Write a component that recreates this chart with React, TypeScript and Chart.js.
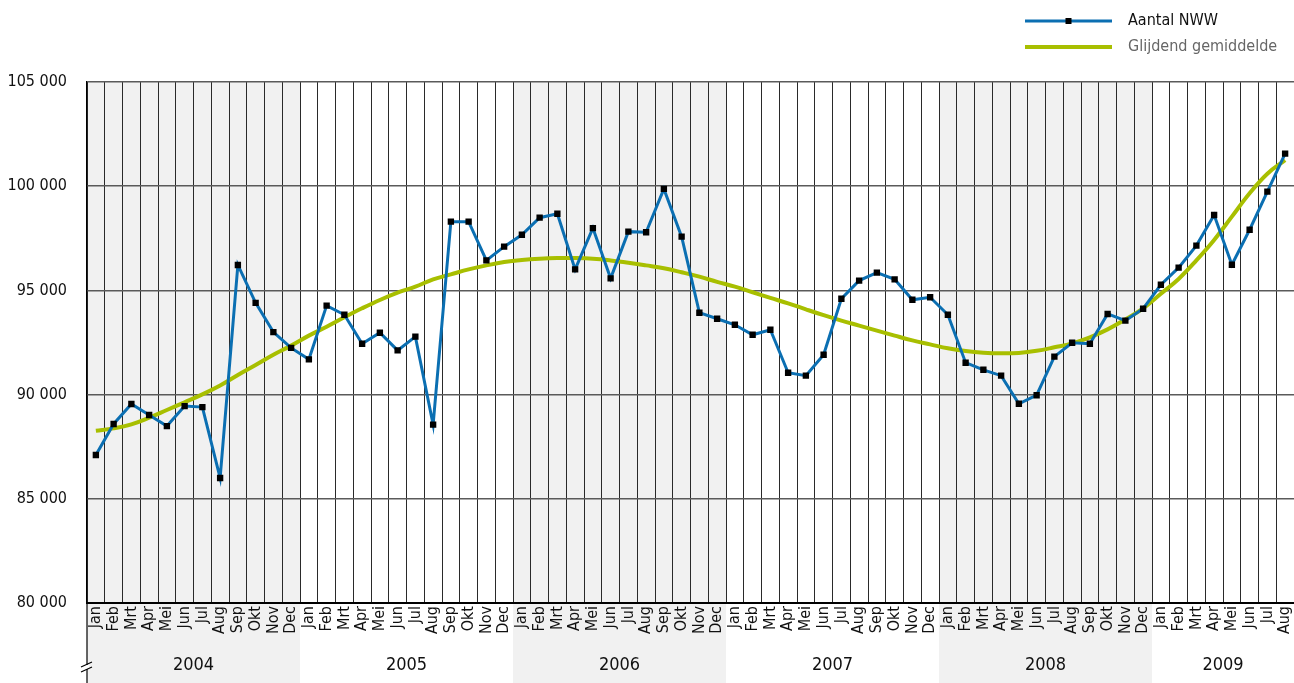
import { useEffect, useRef } from "react";
import { Chart, registerables } from "chart.js";

Chart.register(...registerables);

const years = ["2004", "2005", "2006", "2007", "2008", "2009"];
const monthsPerYear = [12, 12, 12, 12, 12, 8];
const shadedYears = ["2004", "2006", "2008"];
const monthNames = ["Jan", "Feb", "Mrt", "Apr", "Mei", "Jun", "Jul", "Aug", "Sep", "Okt", "Nov", "Dec"];

const monthLabels: string[] = years.flatMap((y, i) => monthNames.slice(0, monthsPerYear[i]));

const aantalNWW = [
  // 2004
  87100, 88590, 89550, 89020, 88490, 89450, 89400, 86000, 96220, 94400, 93000, 92240,
  // 2005
  91690, 94270, 93830, 92440, 92970, 92120, 92780, 88560, 98300, 98300, 96440, 97100,
  // 2006
  97670, 98490, 98680, 96010, 97990, 95580, 97820, 97790, 99870, 97580, 93930, 93640,
  // 2007
  93350, 92870, 93110, 91050, 90910, 91910, 94600, 95470, 95850, 95530, 94550, 94670,
  // 2008
  93830, 91530, 91190, 90910, 89560, 89970, 91820, 92490, 92440, 93870, 93550, 94120,
  // 2009
  95270, 96090, 97150, 98620, 96230, 97910, 99740, 101560,
];

const glijdendGemiddelde = [
  // 2004
  88270, 88380, 88570, 88890, 89260, 89630, 90010, 90440, 90940, 91420, 91910, 92350,
  // 2005
  92830, 93260, 93710, 94140, 94540, 94890, 95180, 95530, 95770, 96010, 96200, 96360,
  // 2006
  96460, 96520, 96550, 96550, 96520, 96440, 96330, 96200, 96060, 95870, 95660, 95410,
  // 2007
  95180, 94910, 94640, 94380, 94090, 93810, 93550, 93310, 93070, 92830, 92600, 92410,
  // 2008
  92220, 92090, 92010, 91980, 92000, 92100, 92270, 92460, 92750, 93130, 93610, 94140,
  // 2009
  94840, 95550, 96440, 97420, 98540, 99660, 100600, 101250,
];

const yMin = 80000;
const yMax = 105000;
const yStep = 5000;

const seriesNames = ["Aantal NWW", "Glijdend gemiddelde"];
const BLUE = "#0b6fb2";
const GREEN = "#a8bf00";
const SHADE = "#f1f1f1";
const FONT = "'Liberation Sans Narrow', 'DejaVu Sans Condensed', 'Arial Narrow', sans-serif";

function formatThousands(v: number): string {
  const s = Math.round(v).toString();
  return s.replace(/\B(?=(\d{3})+(?!\d))/g, " ");
}

const decorPlugin = {
  id: "decor",
  beforeDraw(chart: any) {
    const { ctx, chartArea, scales } = chart;
    const x = scales.x;
    const H = chart.height;
    const colW = x.getPixelForValue(1) - x.getPixelForValue(0);
    ctx.save();
    ctx.fillStyle = SHADE;
    let start = 0;
    years.forEach((y, i) => {
      const n = monthsPerYear[i];
      if (shadedYears.includes(y)) {
        const left = x.getPixelForValue(start) - colW / 2;
        const right = x.getPixelForValue(start + n - 1) + colW / 2;
        ctx.fillRect(left, chartArea.top, right - left, H - chartArea.top);
      }
      start += n;
    });
    ctx.restore();
  },
  afterDraw(chart: any) {
    const { ctx, chartArea, scales } = chart;
    const x = scales.x;
    const H = chart.height;
    const colW = x.getPixelForValue(1) - x.getPixelForValue(0);
    ctx.save();
    // year labels
    ctx.fillStyle = "#111";
    ctx.font = `18px ${FONT}`;
    ctx.textAlign = "center";
    ctx.textBaseline = "middle";
    let start = 0;
    years.forEach((y, i) => {
      const n = monthsPerYear[i];
      const left = x.getPixelForValue(start) - colW / 2;
      const right = x.getPixelForValue(start + n - 1) + colW / 2;
      ctx.fillText(y, (left + right) / 2, 665);
      start += n;
    });
    // left axis extension
    ctx.strokeStyle = "#000";
    ctx.lineWidth = 1.2;
    ctx.beginPath();
    ctx.moveTo(chartArea.left, chartArea.bottom);
    ctx.lineTo(chartArea.left, H);
    ctx.stroke();
    // break mark
    ctx.fillStyle = "#fff";
    ctx.fillRect(chartArea.left - 2, 665, 4, 4);
    ctx.beginPath();
    ctx.moveTo(chartArea.left - 6, 667);
    ctx.lineTo(chartArea.left + 5, 662);
    ctx.moveTo(chartArea.left - 6, 672);
    ctx.lineTo(chartArea.left + 5, 667);
    ctx.stroke();
    // legend
    const lx0 = 1025, lx1 = 1112, tx = 1128;
    ctx.lineCap = "butt";
    ctx.strokeStyle = BLUE;
    ctx.lineWidth = 3;
    ctx.beginPath();
    ctx.moveTo(lx0, 21);
    ctx.lineTo(lx1, 21);
    ctx.stroke();
    ctx.fillStyle = "#000";
    ctx.fillRect((lx0 + lx1) / 2 - 3, 18, 6, 6);
    ctx.strokeStyle = GREEN;
    ctx.lineWidth = 4;
    ctx.beginPath();
    ctx.moveTo(lx0, 47);
    ctx.lineTo(lx1, 47);
    ctx.stroke();
    ctx.textAlign = "left";
    ctx.font = `16px ${FONT}`;
    ctx.fillStyle = "#111";
    ctx.fillText(seriesNames[0], tx, 21);
    ctx.fillStyle = "#666";
    ctx.fillText(seriesNames[1], tx, 47);
    ctx.restore();
  },
};

export default function App() {
  const ref = useRef<HTMLCanvasElement | null>(null);
  useEffect(() => {
    if (!ref.current) return;
    const chart = new Chart(ref.current, {
      type: "line",
      data: {
        labels: monthLabels,
        datasets: [
          {
            label: seriesNames[0],
            data: aantalNWW,
            borderColor: BLUE,
            backgroundColor: "#000",
            borderWidth: 3,
            pointStyle: "rect",
            pointRadius: 4.5,
            pointBorderWidth: 0,
            pointBackgroundColor: "#000",
            tension: 0,
            order: 0,
          },
          {
            label: seriesNames[1],
            data: glijdendGemiddelde,
            borderColor: GREEN,
            borderWidth: 4,
            pointRadius: 0,
            tension: 0.4,
            order: 1,
          },
        ],
      },
      options: {
        animation: false,
        responsive: true,
        maintainAspectRatio: false,
        layout: { autoPadding: false, padding: { top: 82, right: 0, bottom: 0, left: 0 } },
        plugins: {
          legend: { display: false },
          tooltip: { enabled: false },
        },
        scales: {
          x: {
            type: "category",
            offset: true,
            grid: {
              offset: true,
              color: "#2a2a2a",
              lineWidth: 1,
              drawTicks: false,
            },
            border: { color: "#000", width: 2 },
            ticks: {
              autoSkip: false,
              maxRotation: 90,
              minRotation: 90,
              padding: 3,
              color: "#111",
              font: { family: FONT, size: 16 },
            },
            afterFit(scale: any) {
              scale.height = 80;
              scale.paddingLeft = 0;
              scale.paddingRight = 0;
            },
          },
          y: {
            min: yMin,
            max: yMax,
            grid: { color: "#5a5a5a", lineWidth: 1.5, drawTicks: false },
            border: { color: "#000", width: 1.2 },
            ticks: {
              stepSize: yStep,
              padding: 20,
              color: "#111",
              font: { family: FONT, size: 16 },
              callback: (v: any) => formatThousands(Number(v)),
            },
            afterFit(scale: any) {
              scale.width = 87;
            },
          },
        },
      },
      plugins: [decorPlugin],
    } as any);
    return () => chart.destroy();
  }, []);
  return (
    <div style={{ position: "fixed", left: 0, top: 0, width: 1294, height: 683, background: "#fff" }}>
      <canvas ref={ref} />
    </div>
  );
}
